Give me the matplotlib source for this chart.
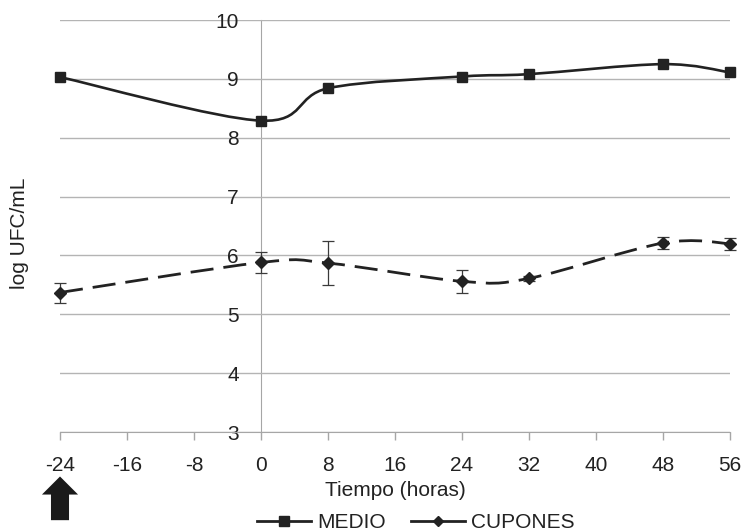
import numpy as np
import matplotlib
matplotlib.use("Agg")
import matplotlib.pyplot as plt
from matplotlib.path import Path
from matplotlib.patches import PathPatch
from matplotlib.lines import Line2D

plt.rcParams["font.family"] = ["Liberation Sans", "DejaVu Sans"]
plt.rcParams["axes.unicode_minus"] = False

# ── data ───────────────────────────────────────────────────────────────────────
tiempo = [-24, 0, 8, 24, 32, 48, 56]
medio = [9.03, 8.29, 8.84, 9.04, 9.08, 9.25, 9.11]
cupones = [5.37, 5.88, 5.87, 5.56, 5.61, 6.21, 6.20]
cupones_err = [0.17, 0.18, 0.38, 0.20, 0.04, 0.10, 0.10]
x_ticks = [-24, -16, -8, 0, 8, 16, 24, 32, 40, 48, 56]
y_ticks = [3, 4, 5, 6, 7, 8, 9, 10]

INK = "#222222"
GRID = "#b4b4b4"
AXIS = "#a6a6a6"


def smooth_path(xs, ys):
    """Cubic bezier through every point (spreadsheet-style smoothed line)."""
    pts = np.column_stack([xs, ys]).astype(float)
    n = len(pts)
    verts = [pts[0]]
    codes = [Path.MOVETO]
    for i in range(n - 1):
        p_prev = pts[max(i - 1, 0)]
        p0, p1 = pts[i], pts[i + 1]
        p_next = pts[min(i + 2, n - 1)]
        c1 = p0 + (p1 - p_prev) / 6.0
        c2 = p1 - (p_next - p0) / 6.0
        verts += [c1, c2, p1]
        codes += [Path.CURVE4] * 3
    return Path(verts, codes)


fig = plt.figure(figsize=(7.45, 5.31), dpi=100, facecolor="white")
ax = fig.add_axes([60 / 745, 1 - 432 / 531, 670 / 745, 412 / 531])

ax.set_xlim(-24, 56)
ax.set_ylim(3, 10)
ax.set_xticks(x_ticks)
ax.set_yticks(y_ticks)
ax.grid(axis="y", color=GRID, linewidth=1.0, zorder=0)

for side in ("top", "right"):
    ax.spines[side].set_visible(False)
ax.spines["left"].set_position(("data", 0))
ax.spines["left"].set_color(AXIS)
ax.spines["bottom"].set_color(AXIS)
ax.spines["left"].set_zorder(0.5)

ax.tick_params(axis="x", direction="out", length=6, width=1, color=AXIS,
               labelsize=15, labelcolor=INK, pad=11)
ax.tick_params(axis="y", length=0, labelsize=15, labelcolor=INK, pad=16)

# MEDIO: smoothed solid line with square markers
ax.add_patch(PathPatch(smooth_path(tiempo, medio), fill=False, edgecolor=INK,
                       linewidth=1.9, zorder=3, clip_on=False))
ax.plot(tiempo, medio, linestyle="none", marker="s", markersize=7.5,
        color=INK, zorder=4, clip_on=False)

# CUPONES: smoothed dashed line with diamonds and error bars
ax.add_patch(PathPatch(smooth_path(tiempo, cupones), fill=False, edgecolor=INK,
                       linewidth=2.0, linestyle=(0, (8.3, 3.6)),
                       capstyle="butt", zorder=3, clip_on=False))
ax.errorbar(tiempo, cupones, yerr=cupones_err, fmt="none", ecolor="#3a3a3a",
            elinewidth=0.9, capsize=4, capthick=0.9, zorder=3.5, clip_on=False)
ax.plot(tiempo, cupones, linestyle="none", marker="D", markersize=6,
        color=INK, zorder=4, clip_on=False)

ax.set_xlabel("Tiempo (horas)", fontsize=15, color=INK, va="center")
ax.xaxis.set_label_coords(0.5, (432 - 490) / 412)
ax.set_ylabel("log UFC/mL", fontsize=15, color=INK, va="center")
ax.yaxis.set_label_coords(-40 / 670, (432 - 233) / 412)

# block arrow under the first sampling time
ax.annotate("", xy=(-24, -0.108), xytext=(-24, -0.214),
            xycoords=("data", "axes fraction"),
            arrowprops=dict(arrowstyle="simple,head_width=1.3,head_length=0.65,tail_width=0.65",
                            mutation_scale=20, fc="#1a1a1a", ec="none",
                            shrinkA=0, shrinkB=0))

handles = [
    Line2D([0], [0], color=INK, linewidth=2, marker="s", markersize=7,
           label="MEDIO"),
    Line2D([0], [0], color=INK, linewidth=2, marker="D", markersize=5,
           label="CUPONES"),
]
fig.legend(handles=handles, loc="center", bbox_to_anchor=(416 / 745, 1 - 523 / 531),
           ncol=2, frameon=False, fontsize=15, handlelength=2.6,
           handletextpad=0.3, columnspacing=1.2, labelcolor=INK)

fig.savefig("out.png", dpi=100, facecolor="white")
